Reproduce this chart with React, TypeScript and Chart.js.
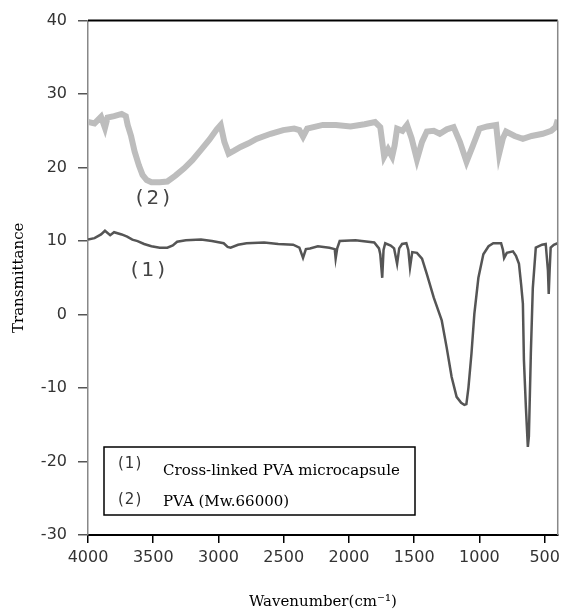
import { useEffect, useRef } from "react";
import { Chart, registerables } from "chart.js";

Chart.register(...registerables);

// PVA (Mw.66000) - curve (2)
const pvaWave = [4000, 3950, 3900, 3870, 3850, 3800, 3742, 3710, 3696, 3670, 3643, 3610, 3582, 3550, 3514, 3450, 3392, 3330, 3263, 3200, 3134, 3070, 3013, 2983, 2955, 2922, 2880, 2831, 2770, 2709, 2600, 2504, 2420, 2380, 2352, 2320, 2200, 2100, 1988, 1880, 1800, 1760, 1730, 1700, 1669, 1650, 1631, 1590, 1555, 1520, 1479, 1440, 1403, 1350, 1304, 1250, 1198, 1150, 1099, 1050, 1000, 940, 872, 849, 820, 796, 730, 667, 600, 515, 450, 416, 400];
const pvaValues = [26.2, 26.0, 26.9, 25.4, 26.8, 27.0, 27.3, 27.0, 25.8, 24.3, 22.2, 20.3, 19.0, 18.3, 18.0, 18.0, 18.1, 18.9, 19.9, 21.0, 22.4, 23.8, 25.2, 25.8, 23.5, 21.9, 22.3, 22.8, 23.3, 23.9, 24.6, 25.1, 25.3, 25.1, 24.2, 25.3, 25.8, 25.8, 25.6, 25.9, 26.2, 25.5, 21.5, 22.5, 21.5, 23.0, 25.3, 25.0, 25.8, 24.0, 21.1, 23.5, 24.9, 25.0, 24.6, 25.2, 25.5, 23.5, 20.8, 23.0, 25.3, 25.6, 25.8, 21.9, 24.0, 24.9, 24.3, 23.9, 24.3, 24.6, 25.0, 25.5, 26.5];

// Cross-linked PVA microcapsule - curve (1)
const capWave = [4000, 3950, 3900, 3870, 3830, 3800, 3742, 3700, 3660, 3620, 3570, 3514, 3450, 3392, 3350, 3317, 3250, 3134, 3050, 2960, 2930, 2907, 2850, 2785, 2650, 2542, 2428, 2380, 2352, 2330, 2299, 2238, 2150, 2109, 2102, 2090, 2071, 1950, 1806, 1770, 1760, 1745, 1735, 1722, 1680, 1654, 1631, 1615, 1593, 1560, 1545, 1532, 1515, 1479, 1440, 1403, 1350, 1289, 1251, 1213, 1175, 1140, 1115, 1100, 1084, 1061, 1039, 1008, 970, 930, 894, 834, 820, 811, 790, 743, 720, 697, 680, 667, 659, 644, 629, 621, 606, 591, 568, 520, 492, 475, 469, 462, 454, 430, 401];
const capValues = [10.2, 10.4, 10.9, 11.4, 10.8, 11.2, 10.9, 10.6, 10.2, 10.0, 9.6, 9.3, 9.1, 9.1, 9.4, 9.9, 10.1, 10.2, 10.0, 9.7, 9.2, 9.1, 9.5, 9.7, 9.8, 9.6, 9.5, 9.1, 7.7, 8.9, 9.0, 9.3, 9.1, 8.9, 7.6, 9.0, 10.0, 10.1, 9.8, 9.0, 8.2, 5.0, 8.8, 9.7, 9.4, 9.0, 6.9, 9.0, 9.6, 9.7, 8.8, 6.4, 8.5, 8.4, 7.6, 5.5, 2.3, -0.8, -4.5, -8.5, -11.2, -12.0, -12.3, -12.2, -9.9, -5.3, 0.1, 5.0, 8.2, 9.3, 9.7, 9.7, 8.8, 7.7, 8.4, 8.6, 8.0, 6.9, 4.0, 1.5, -6.2, -12.6, -18.0, -16.6, -5.3, 3.6, 9.1, 9.5, 9.6, 6.0, 2.8, 6.0, 9.1, 9.5, 9.7];

const xTicks = [4000, 3500, 3000, 2500, 2000, 1500, 1000, 500];
const yTicks = [-30, -20, -10, 0, 10, 20, 30, 40];

const legendKeys = ["(1)", "(2)"];
const legendNames = ["Cross-linked PVA microcapsule", "PVA (Mw.66000)"];

// curve labels: [wavenumber, transmittance, text]
const curveLabels: [number, number, string][] = [
  [3491, 15.8, "(2)"],
  [3529, 5.9, "(1)"],
];

const toPoints = (xs: number[], ys: number[]) => xs.map((x, i) => ({ x, y: ys[i] }));

const framePlugin = {
  id: "frame",
  afterDatasetsDraw(chart: any) {
    const { ctx, chartArea, scales } = chart;
    ctx.save();
    // top and right border
    ctx.strokeStyle = "#000";
    ctx.lineWidth = 2;
    ctx.beginPath();
    ctx.moveTo(chartArea.left, chartArea.top);
    ctx.lineTo(chartArea.right, chartArea.top);
    ctx.stroke();
    ctx.strokeStyle = "#888";
    ctx.lineWidth = 1.5;
    ctx.beginPath();
    ctx.moveTo(chartArea.right, chartArea.top);
    ctx.lineTo(chartArea.right, chartArea.bottom);
    ctx.stroke();

    // curve labels
    ctx.fillStyle = "#444";
    ctx.font = "20px 'DejaVu Sans'";
    (ctx as any).letterSpacing = "3px";
    ctx.textAlign = "center";
    ctx.textBaseline = "middle";
    curveLabels.forEach(([w, v, t]) => {
      ctx.fillText(t, scales.x.getPixelForValue(w), scales.y.getPixelForValue(v));
    });
    (ctx as any).letterSpacing = "0px";

    // legend box
    const bx = chartArea.left + 16;
    const by = chartArea.bottom - 88;
    const bw = 311;
    const bh = 68;
    ctx.fillStyle = "#fff";
    ctx.fillRect(bx, by, bw, bh);
    ctx.strokeStyle = "#000";
    ctx.lineWidth = 1.5;
    ctx.strokeRect(bx, by, bw, bh);
    ctx.textAlign = "left";
    legendKeys.forEach((k, i) => {
      ctx.fillStyle = "#333";
      ctx.font = "15px 'DejaVu Sans'";
      (ctx as any).letterSpacing = "1px";
      ctx.fillText(k, bx + 14, by + 17 + i * 36);
      (ctx as any).letterSpacing = "0px";
      ctx.fillStyle = "#000";
      ctx.font = "15px 'DejaVu Serif'";
      ctx.fillText(legendNames[i], bx + 59, by + 24 + i * 31);
    });
    ctx.restore();
  },
};

const App = () => {
  const canvasRef = useRef<HTMLCanvasElement>(null);

  useEffect(() => {
    if (!canvasRef.current) return;
    const chart = new Chart(canvasRef.current, {
      type: "line",
      data: {
        datasets: [
          {
            data: toPoints(pvaWave, pvaValues),
            borderColor: "#bdbdbd",
            borderWidth: 6,
            pointRadius: 0,
            tension: 0,
          },
          {
            data: toPoints(pvaWave, pvaValues),
            borderColor: "#dedede",
            borderWidth: 4,
            pointRadius: 0,
            tension: 0,
          },
          {
            data: toPoints(capWave, capValues),
            borderColor: "#555",
            borderWidth: 2.5,
            pointRadius: 0,
            tension: 0,
          },
        ],
      },
      options: {
        animation: false,
        responsive: true,
        maintainAspectRatio: false,
        layout: { padding: { top: 17, right: 2, left: 0, bottom: 0 } },
        plugins: { legend: { display: false }, tooltip: { enabled: false } },
        scales: {
          x: {
            type: "linear",
            min: 400,
            max: 4000,
            reverse: true,
            afterBuildTicks: (s: any) => {
              s.ticks = xTicks.map((value) => ({ value }));
            },
            afterFit: (s: any) => {
              s.height = 78;
            },
            grid: { drawOnChartArea: false, drawTicks: true, tickLength: 8, color: "#000", lineWidth: 1.5 },
            border: { color: "#000", width: 2 },
            ticks: {
              font: { family: "'DejaVu Sans'", size: 16 },
              color: "#333",
              padding: 5,
              maxRotation: 0,
              autoSkip: false,
              callback: (v: any) => String(v),
            },
            title: {
              display: true,
              text: "Wavenumber(cm\u207B\u00B9)",
              font: { family: "'DejaVu Serif'", size: 15 },
              color: "#000",
              padding: { top: 0, bottom: 2 },
            },
          },
          y: {
            min: -30,
            max: 40,
            afterBuildTicks: (s: any) => {
              s.ticks = yTicks.map((value) => ({ value }));
            },
            afterFit: (s: any) => {
              s.width = 88;
            },
            grid: { drawOnChartArea: false, drawTicks: true, tickLength: 10, color: "#555", lineWidth: 1.5 },
            border: { color: "#888", width: 1.5 },
            ticks: {
              font: { family: "'DejaVu Sans'", size: 16 },
              color: "#333",
              padding: 11,
              callback: (v: any) => String(v),
            },
            title: {
              display: true,
              text: "Transmittance",
              font: { family: "'DejaVu Serif'", size: 15 },
              color: "#000",
              padding: { top: 10, bottom: 0 },
            },
          },
        },
      },
      plugins: [framePlugin],
    });
    return () => chart.destroy();
  }, []);

  return (
    <div style={{ position: "fixed", left: 0, top: 0, width: 565, height: 613, background: "#fff" }}>
      <canvas ref={canvasRef}></canvas>
    </div>
  );
};

export default App;
